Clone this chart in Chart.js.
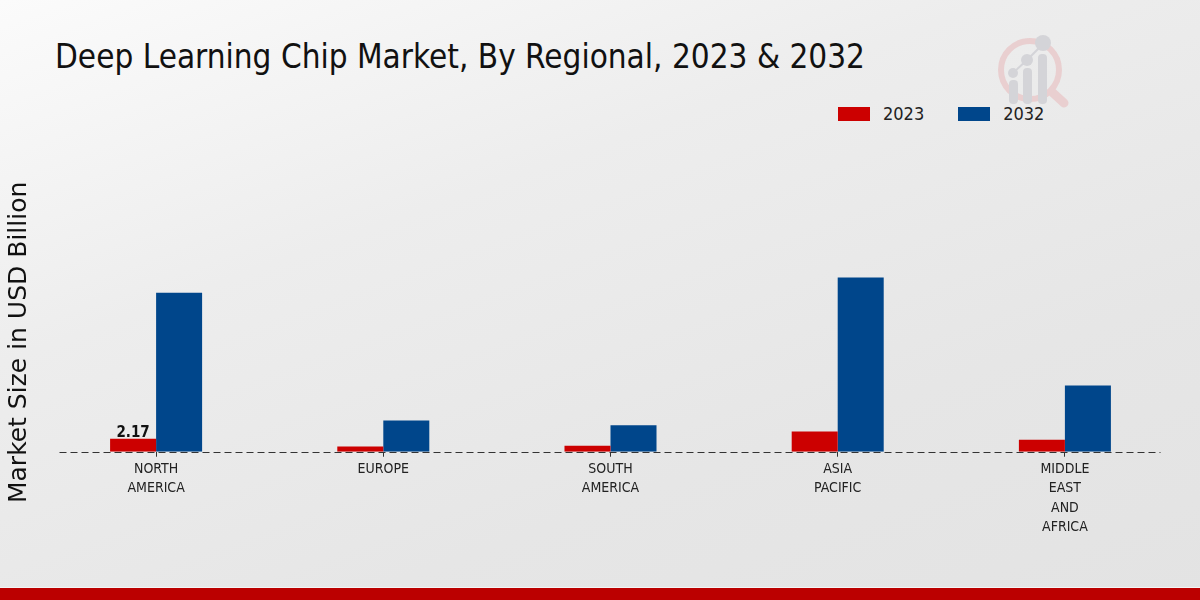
<!DOCTYPE html>
<html>
<head>
<meta charset="utf-8">
<title>Deep Learning Chip Market, By Regional</title>
<script src="https://cdn.jsdelivr.net/npm/chart.js"></script>
<style>
  html, body { margin: 0; padding: 0; }
  body {
    width: 1200px; height: 600px; position: relative; overflow: hidden;
    background: linear-gradient(160deg, #fbfbfb 0%, #ededed 35%, #e6e6e6 70%, #e3e3e3 100%);
    font-family: 'DejaVu Sans Condensed', 'DejaVu Sans', sans-serif;
  }
  #chart-box { position: absolute; left: 0; top: 0; width: 1200px; height: 600px; }
  h1 {
    position: absolute; left: 55px; top: 37px; margin: 0;
    font-weight: normal; font-size: 33px; line-height: 40px; color: #111;
    font-stretch: condensed; white-space: nowrap;
  }
  #legend { position: absolute; left: 838px; top: 103px; display: flex; align-items: center; }
  .item { display: flex; align-items: center; margin-right: 34px; font-size: 18px; color: #222; }
  .swatch { width: 32px; height: 14px; margin-right: 13px; }
  #logo { position: absolute; left: 990px; top: 30px; }
  .footer { position: absolute; left: 0; bottom: 0; width: 1200px; height: 12px; background: #bb0000; border-top: 1px solid #f4f4f4; }
</style>
</head>
<body>
<h1>Deep Learning Chip Market, By Regional, 2023 &amp; 2032</h1>

<svg id="logo" width="90" height="90" viewBox="990 30 90 90">
  <circle cx="1030" cy="70" r="29" fill="none" stroke="#e9cfd0" stroke-width="6"/>
  <line x1="1052" y1="92" x2="1064" y2="103" stroke="#e9cfd0" stroke-width="9" stroke-linecap="round"/>
  <line x1="1013" y1="73" x2="1027" y2="60" stroke="#d4d4d8" stroke-width="2"/>
  <line x1="1027" y1="60" x2="1043" y2="44" stroke="#d4d4d8" stroke-width="2"/>
  <rect x="1009" y="80" width="9" height="24" rx="4" fill="#d4d4d8"/>
  <rect x="1023" y="68" width="9" height="36" rx="4" fill="#d4d4d8"/>
  <rect x="1038" y="54" width="9" height="50" rx="4" fill="#d4d4d8"/>
  <circle cx="1013" cy="73" r="5" fill="#d4d4d8"/>
  <circle cx="1027" cy="60" r="6" fill="#d4d4d8"/>
  <circle cx="1043" cy="43" r="8" fill="#d4d4d8"/>
</svg>

<div id="legend">
  <div class="item"><span class="swatch" style="background:#cc0000"></span>2023</div>
  <div class="item"><span class="swatch" style="background:#00468b"></span>2032</div>
</div>

<div id="chart-box"><canvas id="myChart"></canvas></div>
<div class="footer"></div>

<script>
// data ------------------------------------
const regions = [
  ["NORTH", "AMERICA"],
  "EUROPE",
  ["SOUTH", "AMERICA"],
  ["ASIA", "PACIFIC"],
  ["MIDDLE", "EAST", "AND", "AFRICA"],
];
const values2023 = [2.17, 0.85, 1.0, 3.35, 2.0];
const values2032 = [26.4, 5.2, 4.4, 28.9, 11.0];
const yMax = 36.3;

const condensed = "'DejaVu Sans Condensed', 'DejaVu Sans', sans-serif";

// dashed baseline + value label on the first bar --------------------
const extras = {
  id: "extras",
  afterDatasetsDraw(chart) {
    const c = chart.ctx;
    const area = chart.chartArea;
    const y0 = Math.round(chart.scales.y.getPixelForValue(0)) + 0.5;
    c.save();
    c.strokeStyle = "#333";
    c.lineWidth = 1;
    c.setLineDash([7, 4]);
    c.beginPath();
    c.moveTo(area.left + 17, y0);
    c.lineTo(area.right - 18, y0);
    c.stroke();
    c.setLineDash([]);

    const bar = chart.getDatasetMeta(0).data[0];
    c.fillStyle = "#111";
    c.font = "bold 15px " + condensed;
    c.textAlign = "center";
    c.textBaseline = "alphabetic";
    c.fillText(values2023[0].toFixed(2), bar.x, bar.y - 2);
    c.restore();
  },
};

const ctx = document.getElementById("myChart");
const chart = new Chart(ctx, {
  type: "bar",
  data: {
    labels: regions,
    datasets: [
      { label: "2023", data: values2023, backgroundColor: "#cc0000" },
      { label: "2032", data: values2032, backgroundColor: "#00468b" },
    ],
  },
  options: {
    responsive: true,
    maintainAspectRatio: false,
    animation: false,
    layout: { padding: { top: 233, left: 0, right: 21.5, bottom: 60 } },
    datasets: { bar: { categoryPercentage: 0.405, barPercentage: 1 } },
    plugins: {
      legend: { display: false },
      tooltip: { enabled: false },
    },
    scales: {
      x: {
        grid: { display: true, drawOnChartArea: false, offset: false, tickLength: 5, color: "#333" },
        border: { display: false },
        ticks: {
          color: "#222",
          padding: 3,
          maxRotation: 0,
          autoSkip: false,
          font: { family: condensed, size: 14, lineHeight: 1.38 },
        },
      },
      y: {
        min: 0,
        max: yMax,
        grid: { display: false, drawTicks: false },
        border: { display: false },
        ticks: { display: false },
        title: {
          display: true,
          text: "Market Size in USD Billion",
          color: "#111",
          font: { family: "'DejaVu Sans', sans-serif", size: 25 },
          padding: { top: 4, bottom: 8.5 },
        },
      },
    },
  },
  plugins: [extras],
});
</script>
</body>
</html>
